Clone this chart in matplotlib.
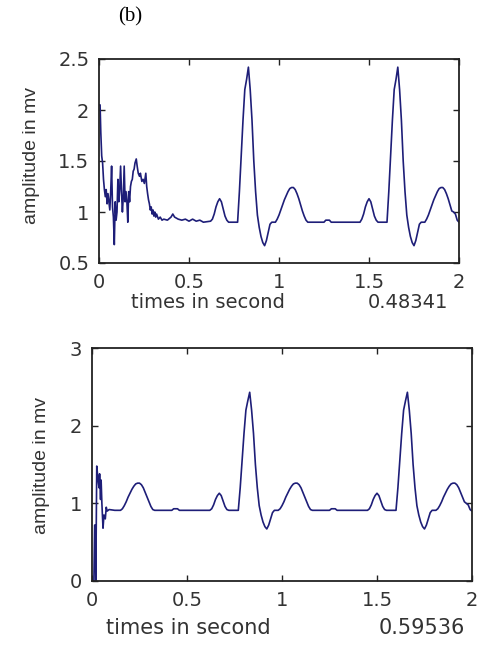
import matplotlib.pyplot as plt

# reconstructed ECG, first filter output (noisy start)
t_top = [0.000, 0.006, 0.010, 0.015, 0.020, 0.025, 0.030, 0.035, 0.040, 0.045,
         0.050, 0.055, 0.060, 0.065, 0.070, 0.075, 0.080, 0.085, 0.090, 0.095,
         0.100, 0.105, 0.110, 0.115, 0.120, 0.125, 0.130, 0.135, 0.140, 0.145,
         0.150, 0.155, 0.160, 0.165, 0.170, 0.175, 0.180, 0.185, 0.190, 0.195,
         0.200, 0.207, 0.212, 0.218, 0.225, 0.230, 0.238, 0.245, 0.252, 0.260,
         0.265, 0.270, 0.275, 0.280, 0.285, 0.290, 0.295, 0.300, 0.305, 0.310,
         0.315, 0.320, 0.330, 0.340, 0.350, 0.360, 0.380, 0.400, 0.410, 0.420,
         0.440, 0.460, 0.480, 0.500, 0.520, 0.540, 0.560, 0.580, 0.620,
         0.630, 0.640, 0.650, 0.660, 0.670, 0.680, 0.690, 0.700, 0.710, 0.720, 0.770,
         0.780, 0.790, 0.800, 0.810, 0.820, 0.830, 0.840, 0.850, 0.860, 0.870,
         0.880, 0.890, 0.900, 0.910, 0.920, 0.930, 0.940, 0.950, 0.960, 0.980,
         0.990, 1.000, 1.010, 1.020, 1.030, 1.040, 1.050, 1.060, 1.070, 1.080,
         1.090, 1.100, 1.110, 1.120, 1.130, 1.140, 1.150, 1.160, 1.250, 1.260,
         1.280, 1.290, 1.450,
         1.460, 1.470, 1.480, 1.490, 1.500, 1.510, 1.520, 1.530, 1.540, 1.550, 1.600,
         1.610, 1.620, 1.630, 1.640, 1.650, 1.660, 1.670, 1.680, 1.690, 1.700,
         1.710, 1.720, 1.730, 1.740, 1.750, 1.760, 1.770, 1.780, 1.790, 1.810,
         1.820, 1.830, 1.840, 1.850, 1.860, 1.870, 1.880, 1.890, 1.900, 1.910,
         1.920, 1.930, 1.940, 1.950, 1.960, 1.970, 1.980, 1.990, 2.000]
v_top = [2.05, 2.05, 1.78, 1.55, 1.48, 1.32, 1.22, 1.15, 1.22, 1.08,
         1.18, 1.10, 1.02, 1.20, 1.45, 1.05, 0.95, 0.68, 1.10, 0.92,
         1.00, 1.32, 1.10, 1.22, 1.45, 1.20, 1.00, 1.15, 1.45, 1.10,
         1.20, 1.10, 0.90, 1.20, 1.10, 1.25, 1.30, 1.32, 1.40, 1.42,
         1.48, 1.52, 1.45, 1.38, 1.35, 1.38, 1.30, 1.32, 1.28, 1.38,
         1.25, 1.18, 1.12, 1.08, 1.02, 1.05, 0.98, 1.02, 0.96, 1.00,
         0.95, 0.98, 0.93, 0.95, 0.92, 0.93, 0.92, 0.95, 0.98, 0.95,
         0.93, 0.92, 0.93, 0.91, 0.93, 0.91, 0.92, 0.90, 0.91,
         0.93, 0.98, 1.05, 1.10, 1.13, 1.10, 1.03, 0.96, 0.92, 0.90, 0.90,
         1.20, 1.55, 1.90, 2.20, 2.30, 2.42, 2.20, 1.90, 1.50, 1.20,
         0.97, 0.85, 0.76, 0.70, 0.67, 0.72, 0.80, 0.88, 0.90, 0.90,
         0.93, 0.97, 1.02, 1.07, 1.12, 1.16, 1.20, 1.23, 1.24, 1.24,
         1.22, 1.18, 1.13, 1.07, 1.01, 0.96, 0.92, 0.90, 0.90, 0.92,
         0.92, 0.90, 0.90,
         0.93, 0.98, 1.05, 1.10, 1.13, 1.10, 1.03, 0.96, 0.92, 0.90, 0.90,
         1.20, 1.55, 1.90, 2.20, 2.30, 2.42, 2.20, 1.90, 1.50, 1.20,
         0.97, 0.85, 0.76, 0.70, 0.67, 0.72, 0.80, 0.88, 0.90, 0.90,
         0.93, 0.97, 1.02, 1.07, 1.12, 1.16, 1.20, 1.23, 1.24, 1.24,
         1.22, 1.18, 1.13, 1.07, 1.01, 1.00, 0.98, 0.92, 0.90]

# second filter output
t_bot = [0.010, 0.014, 0.017, 0.020, 0.025, 0.032, 0.037, 0.040, 0.045, 0.048,
         0.052, 0.058, 0.063, 0.070, 0.075, 0.080, 0.090, 0.120, 0.150,
         0.160, 0.170, 0.180, 0.190, 0.200, 0.210, 0.220, 0.230, 0.240, 0.250,
         0.260, 0.270, 0.280, 0.290, 0.300, 0.310, 0.320, 0.330, 0.420, 0.430,
         0.450, 0.460, 0.620,
         0.630, 0.640, 0.650, 0.660, 0.670, 0.680, 0.690, 0.700, 0.710, 0.720, 0.770,
         0.780, 0.790, 0.800, 0.810, 0.820, 0.830, 0.840, 0.850, 0.860, 0.870,
         0.880, 0.890, 0.900, 0.910, 0.920, 0.930, 0.940, 0.950, 0.960, 0.980,
         0.990, 1.000, 1.010, 1.020, 1.030, 1.040, 1.050, 1.060, 1.070, 1.080,
         1.090, 1.100, 1.110, 1.120, 1.130, 1.140, 1.150, 1.160, 1.250, 1.260,
         1.280, 1.290, 1.450,
         1.460, 1.470, 1.480, 1.490, 1.500, 1.510, 1.520, 1.530, 1.540, 1.550, 1.600,
         1.610, 1.620, 1.630, 1.640, 1.650, 1.660, 1.670, 1.680, 1.690, 1.700,
         1.710, 1.720, 1.730, 1.740, 1.750, 1.760, 1.770, 1.780, 1.790, 1.810,
         1.820, 1.830, 1.840, 1.850, 1.860, 1.870, 1.880, 1.890, 1.900, 1.910,
         1.920, 1.930, 1.940, 1.950, 1.960, 1.970, 1.980, 1.990, 2.000]
v_bot = [0.00, 0.72, 0.72, 0.00, 1.48, 1.30, 1.20, 1.38, 1.05, 1.30,
         1.00, 0.68, 0.85, 0.80, 0.95, 0.90, 0.92, 0.91, 0.91,
         0.93, 0.97, 1.02, 1.08, 1.13, 1.18, 1.22, 1.25, 1.26, 1.26,
         1.24, 1.20, 1.14, 1.08, 1.02, 0.96, 0.92, 0.91, 0.91, 0.93,
         0.93, 0.91, 0.91,
         0.93, 0.98, 1.05, 1.10, 1.13, 1.10, 1.03, 0.96, 0.92, 0.91, 0.91,
         1.20, 1.55, 1.90, 2.20, 2.32, 2.43, 2.20, 1.90, 1.50, 1.20,
         0.97, 0.85, 0.76, 0.70, 0.67, 0.72, 0.80, 0.88, 0.91, 0.91,
         0.93, 0.97, 1.02, 1.08, 1.13, 1.18, 1.22, 1.25, 1.26, 1.26,
         1.24, 1.20, 1.14, 1.08, 1.02, 0.96, 0.92, 0.91, 0.91, 0.93,
         0.93, 0.91, 0.91,
         0.93, 0.98, 1.05, 1.10, 1.13, 1.10, 1.03, 0.96, 0.92, 0.91, 0.91,
         1.20, 1.55, 1.90, 2.20, 2.32, 2.43, 2.20, 1.90, 1.50, 1.20,
         0.97, 0.85, 0.76, 0.70, 0.67, 0.72, 0.80, 0.88, 0.91, 0.91,
         0.93, 0.97, 1.02, 1.08, 1.13, 1.18, 1.22, 1.25, 1.26, 1.26,
         1.24, 1.20, 1.14, 1.08, 1.02, 1.00, 0.98, 0.92, 0.90]

top_xticks = [0, 0.5, 1, 1.5, 2]
top_yticks = [0.5, 1, 1.5, 2, 2.5]
bot_yticks = [0, 1, 2, 3]
tick_names_x = ['0', '0.5', '1', '1.5', '2']
tick_names_top_y = ['0.5', '1', '1.5', '2', '2.5']
tick_names_bot_y = ['0', '1', '2', '3']

W, H = 478, 653
fig = plt.figure(figsize=(W / 100, H / 100), dpi=100)
line_col = '#1e1e78'


def style(ax):
    for s in ax.spines.values():
        s.set_linewidth(1.3)
        s.set_color('#222222')
    ax.tick_params(direction='in', length=4, width=1, top=True, right=True,
                   labelsize=14, colors='#222222', pad=7)
    for lab in ax.get_xticklabels() + ax.get_yticklabels():
        lab.set_family('DejaVu Sans')
        lab.set_color('#333333')


ax1 = fig.add_axes([99 / W, 1 - 263 / H, 360 / W, 204 / H])
ax1.plot(t_top, v_top, color=line_col, lw=1.2)
ax1.set_xlim(0, 2)
ax1.set_ylim(0.5, 2.5)
ax1.set_xticks(top_xticks, tick_names_x)
ax1.set_yticks(top_yticks, tick_names_top_y)
style(ax1)

ax2 = fig.add_axes([92 / W, 1 - 581 / H, 380 / W, 233 / H])
ax2.plot(t_bot, v_bot, color=line_col, lw=1.2)
ax2.set_xlim(0, 2)
ax2.set_ylim(0, 3)
ax2.set_xticks(top_xticks, tick_names_x)
ax2.set_yticks(bot_yticks, tick_names_bot_y)
style(ax2)

# axis labels placed in figure pixels
txt = dict(color='#333333', ha='center', va='center')
fig.text(31 / W, 1 - 156 / H, 'amplitude in mv', rotation=90,
         family='Liberation Sans', fontsize=14, **txt)
fig.text(42 / W, 1 - 465 / H, 'amplitude in mv', rotation=90,
         family='Liberation Sans', fontsize=14, **txt)
fig.text(208 / W, 1 - 303 / H, 'times in second', family='DejaVu Sans', fontsize=14, **txt)
fig.text(408 / W, 1 - 303 / H, '0.48341', family='DejaVu Sans', fontsize=14, **txt)
fig.text(188 / W, 1 - 628 / H, 'times in second', family='DejaVu Sans', fontsize=15, **txt)
fig.text(422 / W, 1 - 628 / H, '0.59536', family='DejaVu Sans', fontsize=15, **txt)
fig.text(130 / W, 1 - 17 / H, '(b)', family='Liberation Serif', fontsize=15,
         color='black', ha='center', va='center')

fig.savefig('out.png', dpi=100)
